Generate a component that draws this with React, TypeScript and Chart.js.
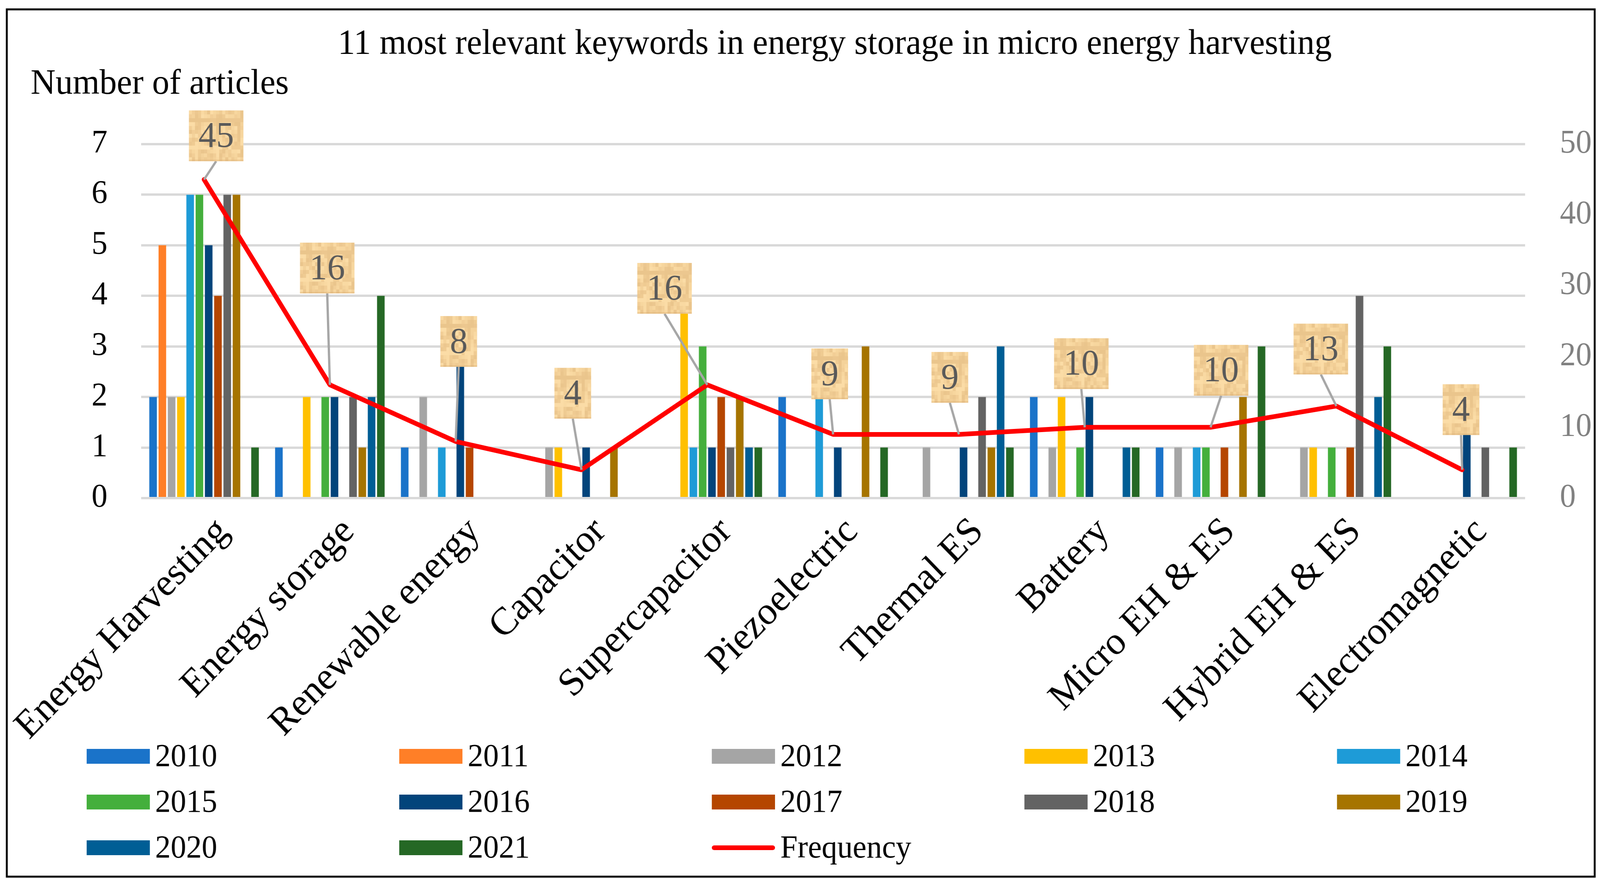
import React, { useEffect, useRef } from 'react';
import { Chart, registerables } from 'chart.js';

Chart.register(...registerables);

// ---------- data ----------
const chartTitle = '11 most relevant keywords in energy storage in micro energy harvesting';
const leftAxisTitle = 'Number of articles';
const categories = [
  'Energy Harvesting',
  'Energy storage',
  'Renewable energy',
  'Capacitor',
  'Supercapacitor',
  'Piezoelectric',
  'Thermal ES',
  'Battery',
  'Micro EH & ES',
  'Hybrid EH & ES',
  'Electromagnetic',
];
const years = ['2010', '2011', '2012', '2013', '2014', '2015', '2016', '2017', '2018', '2019', '2020', '2021'];
const y2010 = [2, 1, 1, 0, 0, 2, 0, 2, 1, 0, 0];
const y2011 = [5, 0, 0, 0, 0, 0, 0, 0, 0, 0, 0];
const y2012 = [2, 0, 2, 1, 0, 0, 1, 1, 1, 1, 0];
const y2013 = [2, 2, 0, 1, 4, 0, 0, 2, 0, 1, 0];
const y2014 = [6, 0, 1, 0, 1, 2, 0, 0, 1, 0, 0];
const y2015 = [6, 2, 0, 0, 3, 0, 0, 1, 1, 1, 0];
const y2016 = [5, 2, 3, 1, 1, 1, 1, 2, 0, 0, 2];
const y2017 = [4, 0, 1, 0, 2, 0, 0, 0, 1, 1, 0];
const y2018 = [6, 2, 0, 0, 1, 0, 2, 0, 0, 4, 1];
const y2019 = [6, 1, 0, 1, 2, 3, 1, 0, 2, 0, 0];
const y2020 = [0, 2, 0, 0, 1, 0, 3, 1, 0, 2, 0];
const y2021 = [1, 4, 0, 0, 1, 1, 1, 1, 3, 3, 1];
const frequencyLabel = 'Frequency';
const frequency = [45, 16, 8, 4, 16, 9, 9, 10, 10, 13, 4];
const leftTickValues = [0, 1, 2, 3, 4, 5, 6, 7];
const rightTickValues = [0, 10, 20, 30, 40, 50];

const yearSeries = [y2010, y2011, y2012, y2013, y2014, y2015, y2016, y2017, y2018, y2019, y2020, y2021];

// ---------- styles ----------
const W = 4228;
const H = 2250;
const FONT = "'Liberation Serif', 'DejaVu Serif', serif";
const yearColors = [
  '#1A73C9', '#FF7F27', '#A5A5A5', '#FFC000', '#1E9BD7', '#44AF3C',
  '#02447B', '#B54600', '#636363', '#A67400', '#005E95', '#256825',
];
const lineColor = '#FF0000';
// label box centre offsets relative to the data point (px)
const labelOffsets: [number, number][] = [
  [32, -112], [-7, -299], [8, -256], [-23, -196], [-113, -247], [-9, -155],
  [-24, -146], [-9, -163], [28, -146], [-41, -146], [-3, -154],
];

function makeTexture(): HTMLCanvasElement {
  const cw = 8;
  const ch = 10;
  const nx = 20;
  const ny = 14;
  const t = document.createElement('canvas');
  t.width = cw * nx;
  t.height = ch * ny;
  const c = t.getContext('2d')!;
  const shades = ['#F9D9A2', '#F4D29A', '#EFCB92', '#F7D69E', '#ECC78F', '#FBDCA6', '#F2CE96', '#EAC58C'];
  for (let i = 0; i < nx; i++) {
    for (let j = 0; j < ny; j++) {
      const h = (i * 37 + j * 91 + ((i * j) % 7) * 13 + ((i + j * 3) % 5) * 17) % shades.length;
      c.fillStyle = shades[h];
      c.fillRect(i * cw, j * ch, cw, ch);
    }
  }
  return t;
}

const decorPlugin = {
  id: 'decor',
  afterDatasetsDraw(chart: any) {
    const ctx: CanvasRenderingContext2D = chart.ctx;
    const lineIdx = chart.data.datasets.length - 1;
    const meta = chart.getDatasetMeta(lineIdx);
    const tile = makeTexture();
    meta.data.forEach((pt: any, i: number) => {
      const val = String(chart.data.datasets[lineIdx].data[i]);
      ctx.save();
      ctx.font = `94px ${FONT}`;
      const tw = ctx.measureText(val).width;
      const bw = Math.round(tw + 50);
      const bh = 130;
      const [dx, dy] = labelOffsets[i];
      const cx = pt.x + dx;
      const cy = pt.y + dy;
      const left = cx - bw / 2;
      const top = cy - bh / 2;
      // leader line
      ctx.strokeStyle = '#A6A6A6';
      ctx.lineWidth = 6;
      ctx.beginPath();
      ctx.moveTo(pt.x, pt.y);
      ctx.lineTo(cx, top + bh);
      ctx.stroke();
      // textured box
      ctx.save();
      ctx.translate(left, top);
      const pat = ctx.createPattern(tile, 'repeat');
      if (pat) ctx.fillStyle = pat;
      ctx.fillRect(0, 0, bw, bh);
      ctx.fillStyle = 'rgba(214,170,110,0.35)';
      ctx.fillRect(0, bh - 4, bw, 4);
      ctx.restore();
      ctx.fillStyle = '#595959';
      ctx.textAlign = 'center';
      ctx.textBaseline = 'middle';
      ctx.fillText(val, cx, cy + 4);
      ctx.restore();
    });
  },
  afterDraw(chart: any) {
    const ctx: CanvasRenderingContext2D = chart.ctx;
    ctx.save();
    // secondary axis tick labels
    const s1 = chart.scales.y1;
    ctx.font = `84px ${FONT}`;
    ctx.fillStyle = '#808080';
    ctx.textAlign = 'left';
    ctx.textBaseline = 'middle';
    rightTickValues.forEach((v) => {
      ctx.fillText(String(v), chart.chartArea.right + 92, s1.getPixelForValue(v));
    });
    // title and axis title
    ctx.fillStyle = '#000';
    ctx.font = `91px ${FONT}`;
    ctx.textAlign = 'center';
    ctx.textBaseline = 'alphabetic';
    ctx.fillText(chartTitle, 2206, 138);
    ctx.textAlign = 'left';
    ctx.fillText(leftAxisTitle, 81, 240);
    // legend
    ctx.font = `82px ${FONT}`;
    ctx.textBaseline = 'middle';
    chart.data.datasets.forEach((ds: any, k: number) => {
      const col = k % 5;
      const row = Math.floor(k / 5);
      const x = 229 + col * 826;
      const y = 1936 + row * 117;
      if (ds.type === 'line') {
        ctx.strokeStyle = ds.borderColor;
        ctx.lineWidth = 12;
        ctx.lineCap = 'round';
        ctx.beginPath();
        ctx.moveTo(x + 6, y);
        ctx.lineTo(x + 161, y);
        ctx.stroke();
      } else {
        ctx.fillStyle = ds.backgroundColor;
        ctx.fillRect(x, y - 19, 167, 38);
      }
      ctx.fillStyle = '#000';
      ctx.fillText(ds.label, x + 181, y + 3);
    });
    // outer border
    ctx.strokeStyle = '#000';
    ctx.lineWidth = 5;
    ctx.strokeRect(18, 24, 4196, 2220);
    ctx.restore();
  },
};

export default function App() {
  const ref = useRef<HTMLCanvasElement>(null);
  useEffect(() => {
    const canvas = ref.current;
    if (!canvas) return;
    const datasets: any[] = years.map((yr, i) => ({
      type: 'bar',
      label: yr,
      data: yearSeries[i],
      backgroundColor: yearColors[i],
      borderWidth: 0,
      yAxisID: 'y',
      order: 1,
      categoryPercentage: 0.884,
      barPercentage: 0.82,
    }));
    datasets.push({
      type: 'line',
      label: frequencyLabel,
      data: frequency,
      borderColor: lineColor,
      backgroundColor: lineColor,
      borderWidth: 12,
      borderJoinStyle: 'round',
      borderCapStyle: 'round',
      pointRadius: 0,
      tension: 0,
      yAxisID: 'y1',
      order: 0,
    });
    const chart = new Chart(canvas, {
      type: 'bar',
      data: { labels: categories, datasets },
      options: {
        responsive: false,
        animation: false,
        devicePixelRatio: 1,
        layout: { padding: { top: 369, left: 0, right: 198, bottom: 0 } },
        plugins: {
          legend: { display: false },
          tooltip: { enabled: false },
          title: { display: false },
        },
        scales: {
          x: {
            grid: { display: false },
            border: { display: false },
            ticks: {
              autoSkip: false,
              minRotation: 45,
              maxRotation: 45,
              color: '#000',
              font: { family: FONT, size: 100 },
              padding: 20,
              labelOffset: 50,
            },
            afterFit: (s: any) => {
              s.height = 975;
              s.paddingLeft = 0;
              s.paddingRight = 0;
            },
          },
          y: {
            position: 'left',
            min: leftTickValues[0],
            max: leftTickValues[leftTickValues.length - 1],
            ticks: { stepSize: 1, color: '#000', font: { family: FONT, size: 84 }, padding: 89 },
            grid: { color: '#D9D9D9', lineWidth: 6, drawTicks: false },
            border: { display: false },
            afterFit: (s: any) => {
              s.width = 373;
            },
          },
          y1: {
            display: false,
            position: 'right',
            min: rightTickValues[0],
            max: rightTickValues[rightTickValues.length - 1],
            grid: { display: false },
          },
        },
      } as any,
      plugins: [decorPlugin],
    });
    return () => chart.destroy();
  }, []);
  return (
    <canvas
      ref={ref}
      width={W}
      height={H}
      style={{ position: 'fixed', left: 0, top: 0, width: '100vw', height: '100vh', display: 'block', background: '#fff' }}
    />
  );
}
